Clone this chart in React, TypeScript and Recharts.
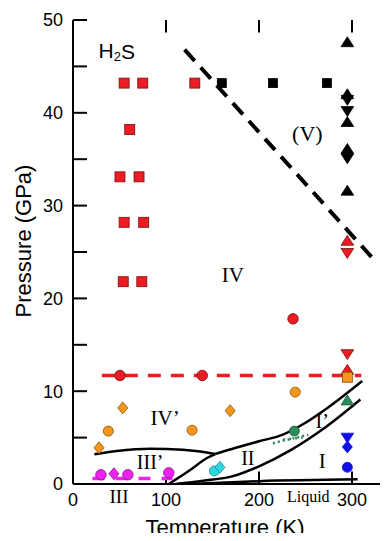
import React from 'react';
import { ComposedChart, XAxis, YAxis, Line, Scatter, ReferenceDot, ReferenceLine } from 'recharts';

type Pt = { t: number; p: number };

// ---- tick values ----
const xTicks = [0, 100, 200, 300];
const topTicks = [100, 200, 300];
const yTicks = [0, 5, 10, 15, 20, 25, 30, 35, 40, 45, 50];

// ---- measured points (T in K, P in GPa) ----
const redSquares: Pt[] = [
  { t: 55, p: 43.2 }, { t: 75, p: 43.2 }, { t: 131, p: 43.2 },
  { t: 61, p: 38.2 },
  { t: 50.5, p: 33.1 }, { t: 71, p: 33.1 },
  { t: 55, p: 28.2 }, { t: 76, p: 28.2 },
  { t: 54, p: 21.8 }, { t: 74, p: 21.8 },
];
const blackSquares: Pt[] = [{ t: 160, p: 43.2 }, { t: 215, p: 43.2 }, { t: 273, p: 43.2 }];
const blackUp: Pt[] = [
  { t: 295, p: 47.6 }, { t: 295, p: 42.0 }, { t: 295, p: 39.0 }, { t: 295, p: 36.1 }, { t: 295, p: 31.6 },
];
const blackDown: Pt[] = [{ t: 295, p: 41.4 }, { t: 295, p: 40.2 }, { t: 295, p: 35.1 }];
const redUp: Pt[] = [{ t: 295, p: 26.2 }, { t: 295, p: 12.3 }];
const redDown: Pt[] = [{ t: 295, p: 24.9 }, { t: 295, p: 14.0 }];
const redCircles: Pt[] = [{ t: 50.5, p: 11.7 }, { t: 139, p: 11.7 }, { t: 236.6, p: 17.8 }];
const orangeSquares: Pt[] = [{ t: 295, p: 11.5 }];
const orangeCircles: Pt[] = [{ t: 38, p: 5.7 }, { t: 128, p: 5.8 }, { t: 239, p: 9.9 }];
const orangeDiamonds: Pt[] = [{ t: 28, p: 3.9 }, { t: 53.5, p: 8.2 }, { t: 169, p: 7.9 }];
const greenTriangles: Pt[] = [{ t: 295, p: 9.0 }];
const greenCircles: Pt[] = [{ t: 238, p: 5.7 }];
const blueDown: Pt[] = [{ t: 295, p: 5.0 }];
const blueDiamonds: Pt[] = [{ t: 295, p: 4.0 }];
const blueCircles: Pt[] = [{ t: 295, p: 1.8 }];
const cyanCircles: Pt[] = [{ t: 152, p: 1.4 }];
const cyanDiamonds: Pt[] = [{ t: 158, p: 1.8 }];
const magentaCircles: Pt[] = [{ t: 30, p: 1.0 }, { t: 59, p: 1.0 }, { t: 103, p: 1.2 }];
const magentaDiamonds: Pt[] = [{ t: 44, p: 1.1 }];

// ---- phase boundaries ----
const phaseVLine: Pt[] = [{ t: 120, p: 46.8 }, { t: 327, p: 23.8 }];
const redDashLine: Pt[] = [{ t: 31, p: 11.7 }, { t: 310, p: 11.7 }];
const magentaDashLine: Pt[] = [{ t: 21, p: 0.6 }, { t: 107, p: 0.6 }];
const boundaryIIIp: Pt[] = [
  { t: 23, p: 3.2 }, { t: 47, p: 3.55 }, { t: 83, p: 3.8 }, { t: 118, p: 3.7 }, { t: 137, p: 3.5 }, { t: 153, p: 3.23 },
];
const boundaryIII_II: Pt[] = [{ t: 103, p: 0 }, { t: 126, p: 1.5 }, { t: 144, p: 2.8 }, { t: 153, p: 3.23 }];
const boundaryII_Ip: Pt[] = [
  { t: 153, p: 3.23 }, { t: 175, p: 3.9 }, { t: 200, p: 4.6 }, { t: 225, p: 5.3 },
  { t: 250, p: 6.6 }, { t: 275, p: 8.3 }, { t: 311, p: 11.1 },
];
const boundaryII_I: Pt[] = [
  { t: 110, p: 0 }, { t: 140, p: 0.35 }, { t: 172, p: 0.85 }, { t: 200, p: 1.9 },
  { t: 235, p: 3.7 }, { t: 270, p: 6.0 }, { t: 309, p: 9.1 },
];
const liquidLine: Pt[] = [{ t: 125, p: 0 }, { t: 200, p: 0.3 }, { t: 306, p: 0.5 }];
const greenDots1: Pt[] = [{ t: 215, p: 4.4 }, { t: 253, p: 5.3 }];
const greenDots2: Pt[] = [{ t: 226, p: 4.8 }, { t: 247, p: 5.0 }];

// ---- region labels ----
const regionNames = ['(V)', 'IV', 'IV’', 'III’', 'III', 'II', 'I’', 'I', 'Liquid'];
const regionT = [252, 172, 99, 83, 49.5, 188, 268, 268, 253];
const regionP = [37.8, 22.5, 7.1, 2.4, -1.4, 2.8, 6.8, 2.5, -1.3];
const regionFont: Record<string, number> = {
  '(V)': 22, IV: 21, 'IV’': 21, 'III’': 20, III: 19, II: 20, 'I’': 20, I: 21, Liquid: 16,
};

const X_MAX = 350;
const Y_MAX = 50;
// inward frame tick lengths, expressed in axis units
const TICK_T = 15;
const TICK_P = 1.35;

const SANS = 'Liberation Sans, Arial, Helvetica, sans-serif';
const SERIF = 'Liberation Serif, Times New Roman, serif';

type Kind = 'square' | 'circle' | 'diamond' | 'up' | 'down';
const makeShape = (kind: Kind, fill: string, stroke: string, size: number) => (props: any) => {
  const { cx, cy } = props;
  if (cx == null || cy == null || isNaN(cx) || isNaN(cy)) return <g />;
  const s = size / 2;
  const common = { fill, stroke, strokeWidth: 0.8 };
  switch (kind) {
    case 'square':
      return <rect x={cx - s} y={cy - s} width={size} height={size} {...common} />;
    case 'circle':
      return <circle cx={cx} cy={cy} r={s} {...common} />;
    case 'diamond':
      return <polygon points={`${cx},${cy - s * 1.2} ${cx + s},${cy} ${cx},${cy + s * 1.2} ${cx - s},${cy}`} {...common} />;
    case 'up':
      return <polygon points={`${cx},${cy - s} ${cx + s * 1.15},${cy + s * 0.8} ${cx - s * 1.15},${cy + s * 0.8}`} {...common} />;
    case 'down':
    default:
      return <polygon points={`${cx},${cy + s} ${cx + s * 1.15},${cy - s * 0.8} ${cx - s * 1.15},${cy - s * 0.8}`} {...common} />;
  }
};

const RED = '#ec1c24';
const RED_E = '#7a0a0a';
const ORANGE = '#f6961e';
const ORANGE_E = '#8a5200';
const GREEN = '#2e8b5a';
const BLUE = '#1010e6';
const CYAN = '#2fd8e0';
const MAGENTA = '#ee22ee';

const axisStyle = { stroke: '#000', strokeWidth: 2 };
const tickText = { fill: '#000', fontSize: 18, fontFamily: SANS };

export default function App() {
  const series: Array<[Pt[], Kind, string, string, number]> = [
    [redSquares, 'square', RED, RED_E, 10],
    [blackSquares, 'square', '#000', '#000', 9],
    [blackUp, 'up', '#000', '#000', 11],
    [blackDown, 'down', '#000', '#000', 11],
    [redDown, 'down', RED, RED_E, 11],
    [redUp, 'up', RED, RED_E, 11],
    [orangeSquares, 'square', ORANGE, ORANGE_E, 10],
    [redCircles, 'circle', RED, RED_E, 10.5],
    [orangeCircles, 'circle', ORANGE, ORANGE_E, 10],
    [orangeDiamonds, 'diamond', ORANGE, ORANGE_E, 10],
    [greenTriangles, 'up', GREEN, '#1c5a3a', 11],
    [greenCircles, 'circle', GREEN, '#1c5a3a', 10],
    [blueDown, 'down', BLUE, BLUE, 11],
    [blueDiamonds, 'diamond', BLUE, BLUE, 10],
    [blueCircles, 'circle', BLUE, BLUE, 10],
    [cyanCircles, 'circle', CYAN, '#1a8a90', 10],
    [cyanDiamonds, 'diamond', CYAN, '#1a8a90', 10],
    [magentaCircles, 'circle', MAGENTA, '#8a108a', 10.5],
    [magentaDiamonds, 'diamond', MAGENTA, '#8a108a', 10],
  ];

  const lineProps = { dot: false, activeDot: false, isAnimationActive: false, dataKey: 'p' } as any;
  const tickSeg = { stroke: '#000', strokeWidth: 2, ifOverflow: 'visible' as const };

  return (
    <div style={{ margin: -8, width: 388, height: 541, overflow: 'hidden', position: 'relative', background: '#fff' }}>
      <ComposedChart width={420} height={541} margin={{ top: 20, right: 21.5, bottom: 0, left: 0 }}>
        <XAxis
          type="number"
          dataKey="t"
          domain={[0, X_MAX]}
          allowDataOverflow
          ticks={xTicks}
          interval={0}
          height={57}
          tickSize={-12}
          tickMargin={21}
          axisLine={axisStyle}
          tickLine={false}
          tick={tickText}
          label={() => (
            <text x={225} y={535} textAnchor="middle" fontSize={22} fontFamily={SANS} fill="#000">
              Temperature (K)
            </text>
          )}
        />
        <XAxis
          xAxisId="top"
          orientation="top"
          type="number"
          dataKey="t"
          domain={[0, X_MAX]}
          allowDataOverflow
          ticks={topTicks}
          height={0}
          tick={false}
          tickLine={false}
          axisLine={axisStyle}
        />
        <YAxis
          type="number"
          dataKey="p"
          domain={[0, Y_MAX]}
          allowDataOverflow
          ticks={yTicks}
          interval={0}
          width={73}
          tickSize={-14}
          tickMargin={24}
          tickFormatter={(v: number) => (v % 10 === 0 ? String(v) : '')}
          axisLine={axisStyle}
          tickLine={axisStyle}
          tick={tickText}
          label={() => (
            <text
              transform="translate(31,241) rotate(-90)"
              textAnchor="middle"
              fontSize={22}
              fontFamily={SANS}
              fill="#000"
            >
              Pressure (GPa)
            </text>
          )}
        />

        {/* inward frame ticks: bottom, top and right edges */}
        {xTicks.filter((v) => v > 0).map((v) => (
          <ReferenceLine key={'b' + v} segment={[{ x: v, y: 0 }, { x: v, y: TICK_P }]} {...tickSeg} />
        ))}
        {topTicks.map((v) => (
          <ReferenceLine key={'t' + v} segment={[{ x: v, y: Y_MAX }, { x: v, y: Y_MAX - TICK_P }]} {...tickSeg} />
        ))}
        {yTicks.map((v) => (
          <ReferenceLine key={'r' + v} segment={[{ x: X_MAX, y: v }, { x: X_MAX - TICK_T, y: v }]} {...tickSeg} />
        ))}

        <Line {...lineProps} data={boundaryIIIp} type="monotone" stroke="#000" strokeWidth={2.5} />
        <Line {...lineProps} data={boundaryIII_II} type="monotone" stroke="#000" strokeWidth={2.5} />
        <Line {...lineProps} data={boundaryII_Ip} type="monotone" stroke="#000" strokeWidth={2.5} />
        <Line {...lineProps} data={boundaryII_I} type="monotone" stroke="#000" strokeWidth={2.5} />
        <Line {...lineProps} data={liquidLine} type="monotone" stroke="#000" strokeWidth={2.5} />
        <Line {...lineProps} data={greenDots1} type="linear" stroke={GREEN} strokeWidth={2.5} strokeDasharray="2 3" />
        <Line {...lineProps} data={greenDots2} type="linear" stroke={GREEN} strokeWidth={2.5} strokeDasharray="2 4" />
        <Line {...lineProps} data={phaseVLine} type="linear" stroke="#000" strokeWidth={4} strokeDasharray="15 9" />
        <Line {...lineProps} data={redDashLine} type="linear" stroke={RED} strokeWidth={3.5} strokeDasharray="13 10" />
        <Line {...lineProps} data={magentaDashLine} type="linear" stroke={MAGENTA} strokeWidth={3.5} strokeDasharray="12 11" />

        {series.map(([data, kind, fill, stroke, size], i) => (
          <Scatter
            key={i}
            data={data}
            isAnimationActive={false}
            shape={makeShape(kind, fill, stroke, size)}
          />
        ))}

        <ReferenceDot
          x={47}
          y={46.7}
          r={0}
          fill="none"
          stroke="none"
          ifOverflow="visible"
          label={(props: any) => {
            const vb = props.viewBox || {};
            return (
              <text x={vb.x} y={vb.y} textAnchor="middle" dominantBaseline="central" fontSize={21} fontFamily={SANS} fill="#000">
                H<tspan dy={5} fontSize={13}>2</tspan>
                <tspan dy={-5}>S</tspan>
              </text>
            );
          }}
        />
        {regionNames.map((name, i) => (
          <ReferenceDot
            key={name}
            x={regionT[i]}
            y={regionP[i]}
            r={0}
            fill="none"
            stroke="none"
            ifOverflow="visible"
            label={(props: any) => {
              const vb = props.viewBox || {};
              return (
                <text
                  x={vb.x}
                  y={vb.y}
                  textAnchor="middle"
                  dominantBaseline="central"
                  fontSize={regionFont[name]}
                  fontFamily={SERIF}
                  fill="#000"
                >
                  {name}
                </text>
              );
            }}
          />
        ))}
      </ComposedChart>
    </div>
  );
}
